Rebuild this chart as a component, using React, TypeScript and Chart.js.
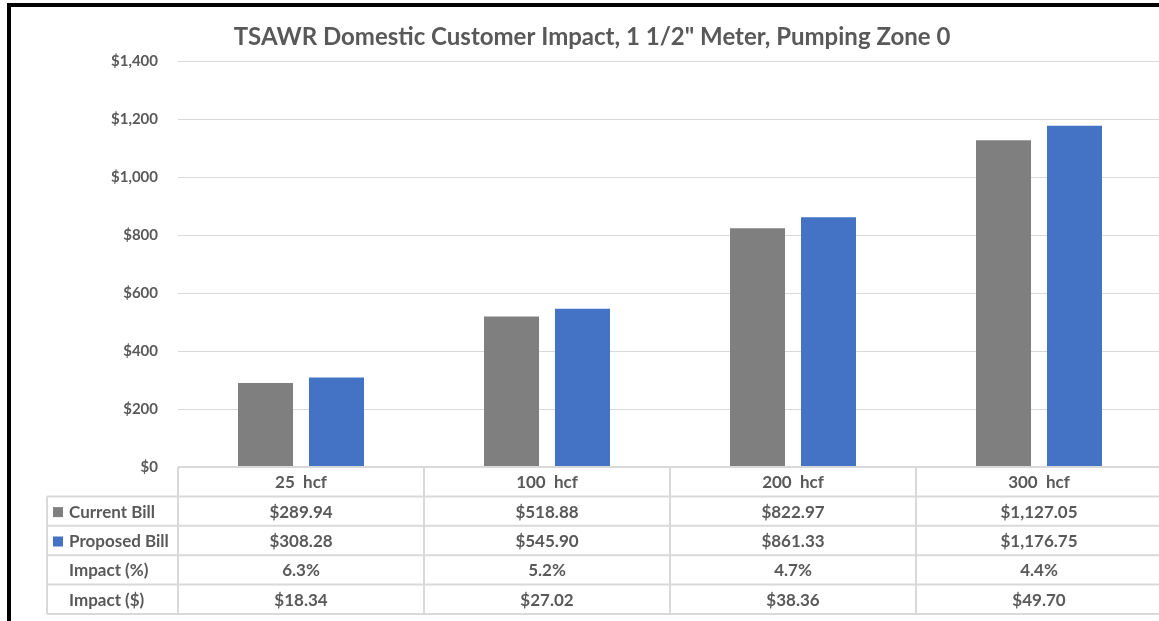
import React, { useEffect, useRef } from "react";
import { Chart, registerables } from "chart.js";

Chart.register(...registerables);

const title = 'TSAWR Domestic Customer Impact, 1 1/2" Meter, Pumping Zone 0';
const categories = ["25  hcf", "100  hcf", "200  hcf", "300  hcf"];
const currentBill = [289.94, 518.88, 822.97, 1127.05];
const proposedBill = [308.28, 545.9, 861.33, 1176.75];
const impactPct = ["6.3%", "5.2%", "4.7%", "4.4%"];
const impactDollar = ["$18.34", "$27.02", "$38.36", "$49.70"];
const yMin = 0;
const yMax = 1400;
const yStep = 200;

const GRAY = "#7f7f7f";
const BLUE = "#4472c4";
const TEXT = "#595959";
const LINE = "#d9d9d9";
const FONT = '"Lato", "Open Sans", sans-serif';

const money = (v: number) =>
  "$" + v.toLocaleString("en-US", { minimumFractionDigits: 2, maximumFractionDigits: 2 });

const decorPlugin = {
  id: "decor",
  beforeDraw(chart: any) {
    const { ctx, width, height } = chart;
    ctx.save();
    ctx.fillStyle = "#ffffff";
    ctx.fillRect(0, 0, width, height);
    ctx.fillStyle = "#000000";
    ctx.fillRect(7, 3, width, 4);
    ctx.fillRect(7, 3, 4, height);
    ctx.restore();
  },
  afterDraw(chart: any) {
    const { ctx, chartArea } = chart;
    const left = chartArea.left;
    const right = chartArea.right;
    const top = chartArea.bottom;
    const colW = (right - left) / categories.length;
    const rowH = 29.4;
    const tableLeft = 47;
    const nRows = 5;
    const bottom = top + rowH * nRows;
    ctx.save();
    // title
    ctx.fillStyle = TEXT;
    ctx.font = `bold 24px ${FONT}`;
    ctx.textAlign = "center";
    ctx.textBaseline = "middle";
    ctx.fillText(title, 592, 37);

    // table lines
    ctx.strokeStyle = LINE;
    ctx.lineWidth = 2;
    ctx.beginPath();
    ctx.moveTo(left, top);
    ctx.lineTo(chart.width, top);
    for (let r = 1; r <= nRows; r++) {
      const y = top + r * rowH;
      ctx.moveTo(tableLeft, y);
      ctx.lineTo(chart.width, y);
    }
    ctx.moveTo(tableLeft, top + rowH);
    ctx.lineTo(tableLeft, bottom);
    for (let c = 0; c <= categories.length; c++) {
      const x = left + c * colW;
      ctx.moveTo(x, top);
      ctx.lineTo(x, bottom);
    }
    ctx.stroke();

    // header
    ctx.fillStyle = TEXT;
    ctx.font = `bold 17px ${FONT}`;
    ctx.textAlign = "center";
    ctx.textBaseline = "middle";
    const xs = chart.scales.x;
    categories.forEach((c, i) => {
      const cx = xs.getPixelForValue(i);
      ctx.fillText(c, cx, top + rowH / 2 + 1);
    });
    const rows: { label: string; color: string | null; cells: string[] }[] = [
      { label: "Current Bill", color: GRAY, cells: currentBill.map(money) },
      { label: "Proposed Bill", color: BLUE, cells: proposedBill.map(money) },
      { label: "Impact (%)", color: null, cells: impactPct },
      { label: "Impact ($)", color: null, cells: impactDollar },
    ];
    rows.forEach((row, r) => {
      const cy = top + rowH * (r + 1) + rowH / 2 + 1;
      if (row.color) {
        ctx.fillStyle = row.color;
        ctx.fillRect(53, cy - 5, 10, 10);
      }
      ctx.fillStyle = TEXT;
      ctx.textAlign = "left";
      ctx.fillText(row.label, 69, cy);
      ctx.textAlign = "center";
      row.cells.forEach((v, i) => {
        ctx.fillText(v, xs.getPixelForValue(i), cy);
      });
    });
    ctx.restore();
  },
};

export default function App() {
  const ref = useRef<HTMLCanvasElement>(null);
  useEffect(() => {
    if (!ref.current) return;
    const chart = new Chart(ref.current, {
      type: "bar",
      data: {
        labels: categories,
        datasets: [
          {
            label: "Current Bill",
            data: currentBill,
            backgroundColor: GRAY,
            barPercentage: 0.775,
            categoryPercentage: 0.577,
          },
          {
            label: "Proposed Bill",
            data: proposedBill,
            backgroundColor: BLUE,
            barPercentage: 0.775,
            categoryPercentage: 0.577,
          },
        ],
      },
      options: {
        animation: false,
        responsive: false,
        layout: { padding: { top: 61, bottom: 154, left: 0, right: 8 } },
        plugins: {
          legend: { display: false },
          tooltip: { enabled: false },
          title: { display: false },
        },
        scales: {
          x: { display: false },
          y: {
            min: yMin,
            max: yMax,
            border: { display: false },
            grid: { color: LINE, lineWidth: 1, drawTicks: false },
            ticks: {
              stepSize: yStep,
              padding: 20,
              color: TEXT,
              font: { family: FONT, size: 15, weight: "bold" },
              callback: (v: any) => "$" + Number(v).toLocaleString("en-US"),
            },
            afterFit: (scale: any) => {
              scale.width = 178;
            },
          },
        },
      },
      plugins: [decorPlugin],
    });
    return () => chart.destroy();
  }, []);
  return (
    <div
      style={{
        position: "fixed",
        left: 0,
        top: 0,
        width: 1159,
        height: 621,
        overflow: "hidden",
        background: "#fff",
      }}
    >
      <canvas ref={ref} width={1170} height={621} style={{ display: "block" }} />
    </div>
  );
}
